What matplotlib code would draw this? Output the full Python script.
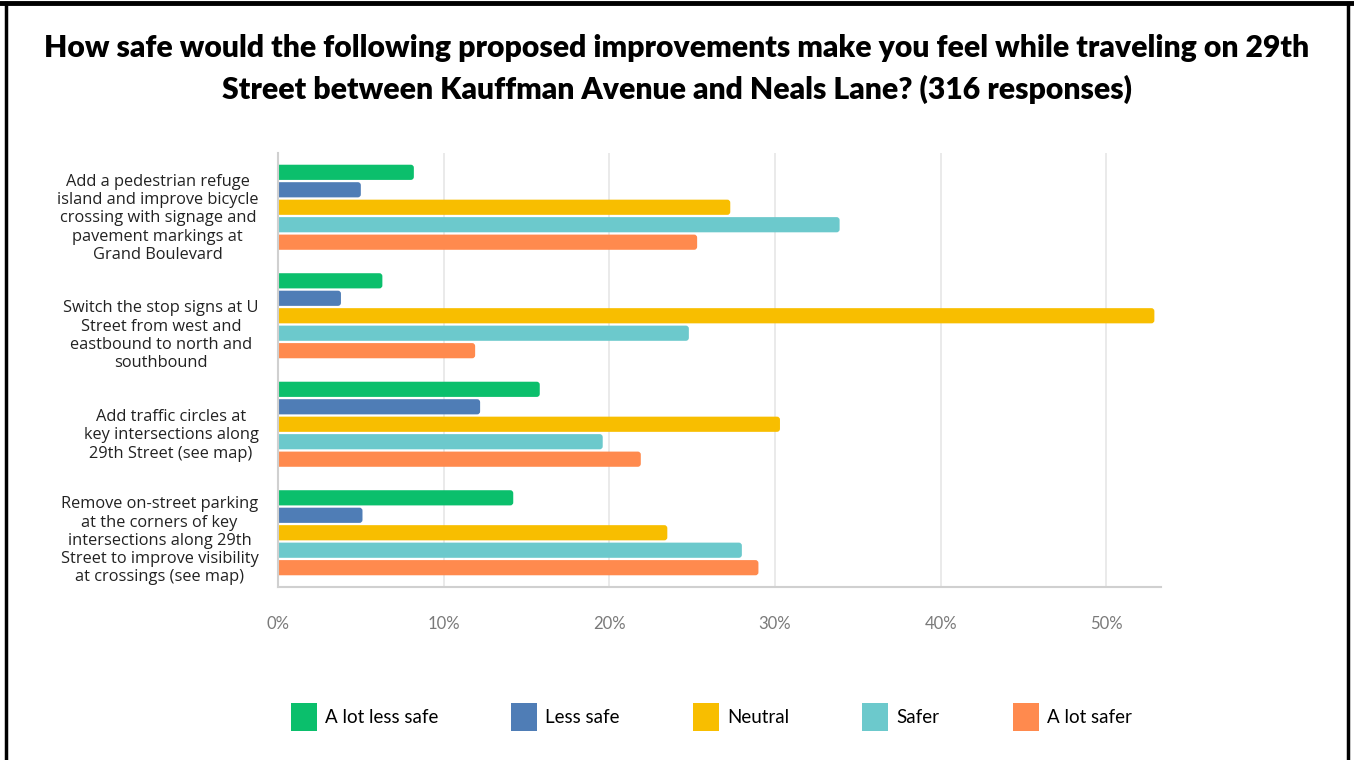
import matplotlib
matplotlib.use("Agg")
import matplotlib.pyplot as plt
import numpy as np
from matplotlib.lines import Line2D
from matplotlib.patches import FancyBboxPatch, Patch
import matplotlib.transforms as mtransforms

categories = [
    "Add a pedestrian refuge\nisland and improve bicycle\ncrossing with signage and\npavement markings at\nGrand Boulevard",
    "Switch the stop signs at U\nStreet from west and\neastbound to north and\nsouthbound",
    "Add traffic circles at\nkey intersections along\n29th Street (see map)",
    "Remove on-street parking\nat the corners of key\nintersections along 29th\nStreet to improve visibility\nat crossings (see map)",
]
series_names = ["A lot less safe", "Less safe", "Neutral", "Safer", "A lot safer"]
a_lot_less_safe = [8.2, 6.3, 15.8, 14.2]
less_safe = [5.0, 3.8, 12.2, 5.1]
neutral = [27.3, 52.9, 30.3, 23.5]
safer = [33.9, 24.8, 19.6, 28.0]
a_lot_safer = [25.3, 11.9, 21.9, 29.0]
tick_values = [0, 10, 20, 30, 40, 50]
tick_labels = ["0%", "10%", "20%", "30%", "40%", "50%"]
colors = ["#0bbf6c", "#4f7db6", "#f8be00", "#6cc9cc", "#ff8a4e"]

series = [a_lot_less_safe, less_safe, neutral, safer, a_lot_safer]

fig = plt.figure(figsize=(13.54, 7.6), dpi=100)
W, H = 1354, 760
ax = fig.add_axes([278 / W, 1 - 587 / H, (1161 - 278) / W, (587 - 153) / H])

n = len(categories)
slot = 0.161
bh = 0.14
centers = np.arange(n)
xmax = 53.3
ax.set_ylim(n - 0.5, -0.5)
ax.set_xlim(0, xmax)

ax_w_px = (1161 - 278)
ax_h_px = (587 - 153)
x_per_px = xmax / ax_w_px
y_per_px = n / ax_h_px
aspect = y_per_px / x_per_px

for i, (vals, c, name) in enumerate(zip(series, colors, series_names)):
    y = centers + (i - 2) * slot
    bars = ax.barh(y, vals, height=bh, color=c, zorder=3)
    for b in bars:
        b.set_visible(False)
        x0, y0 = b.get_x(), b.get_y()
        w, h = b.get_width(), b.get_height()
        fb = FancyBboxPatch((x0 - 0.5, y0), w + 0.5, h,
                            boxstyle=f"round,pad=0,rounding_size={3 * x_per_px}",
                            mutation_aspect=aspect, facecolor=c, edgecolor="none",
                            zorder=3, clip_on=True)
        ax.add_patch(fb)
        fb.set_clip_path(ax.patch)

ax.set_xticks(tick_values)
ax.set_xticklabels(tick_labels, fontfamily="Lato", fontsize=12, color="#7a7a7a")
ax.set_yticks(centers)
ax.set_yticklabels(categories, fontfamily="Open Sans", fontsize=11.8, color="#222222",
                   multialignment="center", linespacing=1.19)
ax.tick_params(axis="both", length=0)
ax.tick_params(axis="x", pad=21)
ax.tick_params(axis="y", pad=14)
# per-label vertical offsets (pixels, downward) to match reference placement
label_offsets = [8, 17, 8, 5]
for lbl, off in zip(ax.get_yticklabels(), label_offsets):
    lbl.set_transform(lbl.get_transform() + mtransforms.ScaledTranslation(0, -off / 100, fig.dpi_scale_trans))

ax.grid(axis="x", color="#e6e6e6", linewidth=1.2, zorder=0)
for s in ["top", "right"]:
    ax.spines[s].set_visible(False)
ax.spines["left"].set_color("#d0d0d0")
ax.spines["bottom"].set_color("#d0d0d0")
ax.spines["left"].set_linewidth(1.5)
ax.spines["bottom"].set_linewidth(1.5)
ax.spines["left"].set_zorder(4)

fig.text(0.5, 1 - 69 / H, "How safe would the following proposed improvements make you feel while traveling on 29th\nStreet between Kauffman Avenue and Neals Lane? (316 responses)",
         ha="center", va="center", fontfamily="Lato", fontweight="heavy", fontsize=21.7,
         linespacing=1.5, color="#000000")

handles = [Patch(facecolor=c, edgecolor="none", label=nm) for c, nm in zip(colors, series_names)]
leg = fig.legend(handles=handles, loc="center", bbox_to_anchor=(711 / W, 1 - 717 / H), ncol=5,
                 frameon=False, prop={"family": "Lato", "size": 13.5}, handlelength=1.39,
                 handleheight=1.85, columnspacing=3.9, handletextpad=0.43)

# frame
fig.add_artist(Line2D([0, 1], [1 - 3 / H, 1 - 3 / H], transform=fig.transFigure, color="black", linewidth=3.5))
fig.add_artist(Line2D([6 / W, 6 / W], [0, 1 - 3 / H], transform=fig.transFigure, color="black", linewidth=2.5))
fig.add_artist(Line2D([1348 / W, 1348 / W], [0, 1 - 3 / H], transform=fig.transFigure, color="black", linewidth=2.5))

fig.savefig("out.png", dpi=100)
